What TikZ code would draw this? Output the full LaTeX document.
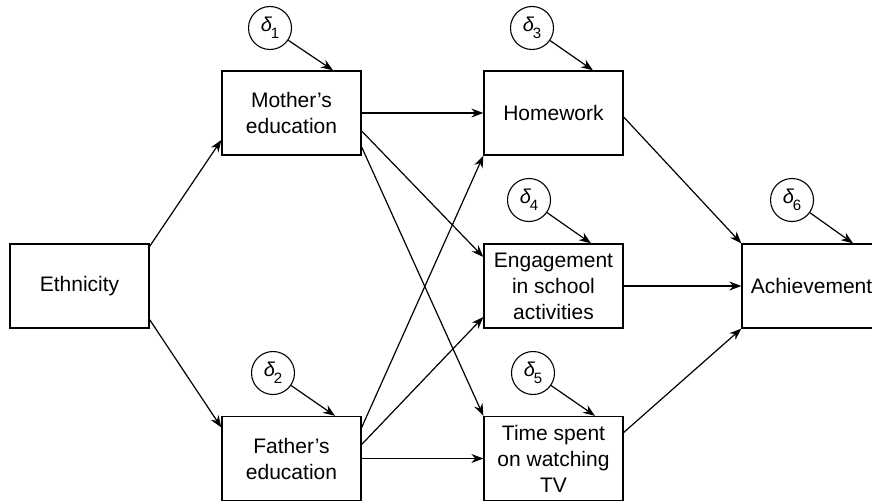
\documentclass[tikz,border=0pt]{standalone}
\usepackage{fontspec}
\setmainfont{Liberation Sans}
\usetikzlibrary{arrows.meta}
\newcommand\dlt[1]{{\fontsize{20}{20}\selectfont\itshape δ}\kern-1pt\raisebox{-7pt}{\fontsize{15}{15}\selectfont #1}}
\begin{document}
\begin{tikzpicture}[x=1pt,y=-1pt,
  box/.style={draw,line width=1.3pt,minimum width=139pt,minimum height=84pt,inner sep=0pt,align=center,font=\fontsize{21}{26}\selectfont},
  err/.style={draw,circle,line width=1.1pt,minimum size=43pt,inner sep=0pt},
  arr/.style={line width=1.2pt,-{Stealth[length=12pt,width=9pt]}}]
\useasboundingbox (0,0) rectangle (872,503);
\node[box] (eth) at (79.5,286) {Ethnicity};
\node[box] (mother) at (291.5,113) {Mother’s\\education};
\node[box] (father) at (291.5,458.5) {Father’s\\education};
\node[box] (home) at (553.5,113) {Homework};
\node[box] (eng) at (553.5,286) {Engagement\\in school\\activities};
\node[box] (time) at (553.5,458.5) {Time spent\\on watching\\TV};
\node[box] (ach) at (811.5,286) {Achievement};
\node[err] (d1) at (270,28) {\dlt{1}};
\node[err] (d2) at (273,373) {\dlt{2}};
\node[err] (d3) at (532,28) {\dlt{3}};
\node[err] (d4) at (529,200) {\dlt{4}};
\node[err] (d5) at (533,373) {\dlt{5}};
\node[err] (d6) at (792,200) {\dlt{6}};
\draw[arr] ([yshift=-3pt]eth.north east) -- ([yshift=-27pt]mother.west);
\draw[arr] ([yshift=9pt]eth.south east) -- ([yshift=31pt]father.west);
\draw[arr] (mother.east) -- (home.west);
\draw[arr] ([yshift=-18pt]mother.east) -- ([yshift=29pt]eng.west);
\draw[arr] ([yshift=-34pt]mother.east) -- (time.north west);
\draw[arr] ([yshift=31pt]father.east) -- (home.south west);
\draw[arr] ([yshift=14pt]father.east) -- ([yshift=-31pt]eng.west);
\draw[arr] (father.east) -- (time.west);
\draw[arr] ([yshift=-4pt]home.east) -- (ach.north west);
\draw[arr] (eng.east) -- (ach.west);
\draw[arr] ([yshift=26pt]time.east) -- (ach.south west);
\draw[arr] (d1) -- ([xshift=41.5pt]mother.north);
\draw[arr] (d2) -- ([xshift=43.5pt]father.north);
\draw[arr] (d3) -- ([xshift=39.5pt]home.north);
\draw[arr] (d4) -- ([xshift=37.5pt]eng.north);
\draw[arr] (d5) -- ([xshift=41.5pt]time.north);
\draw[arr] (d6) -- ([xshift=41.5pt]ach.north);
\end{tikzpicture}
\end{document}
